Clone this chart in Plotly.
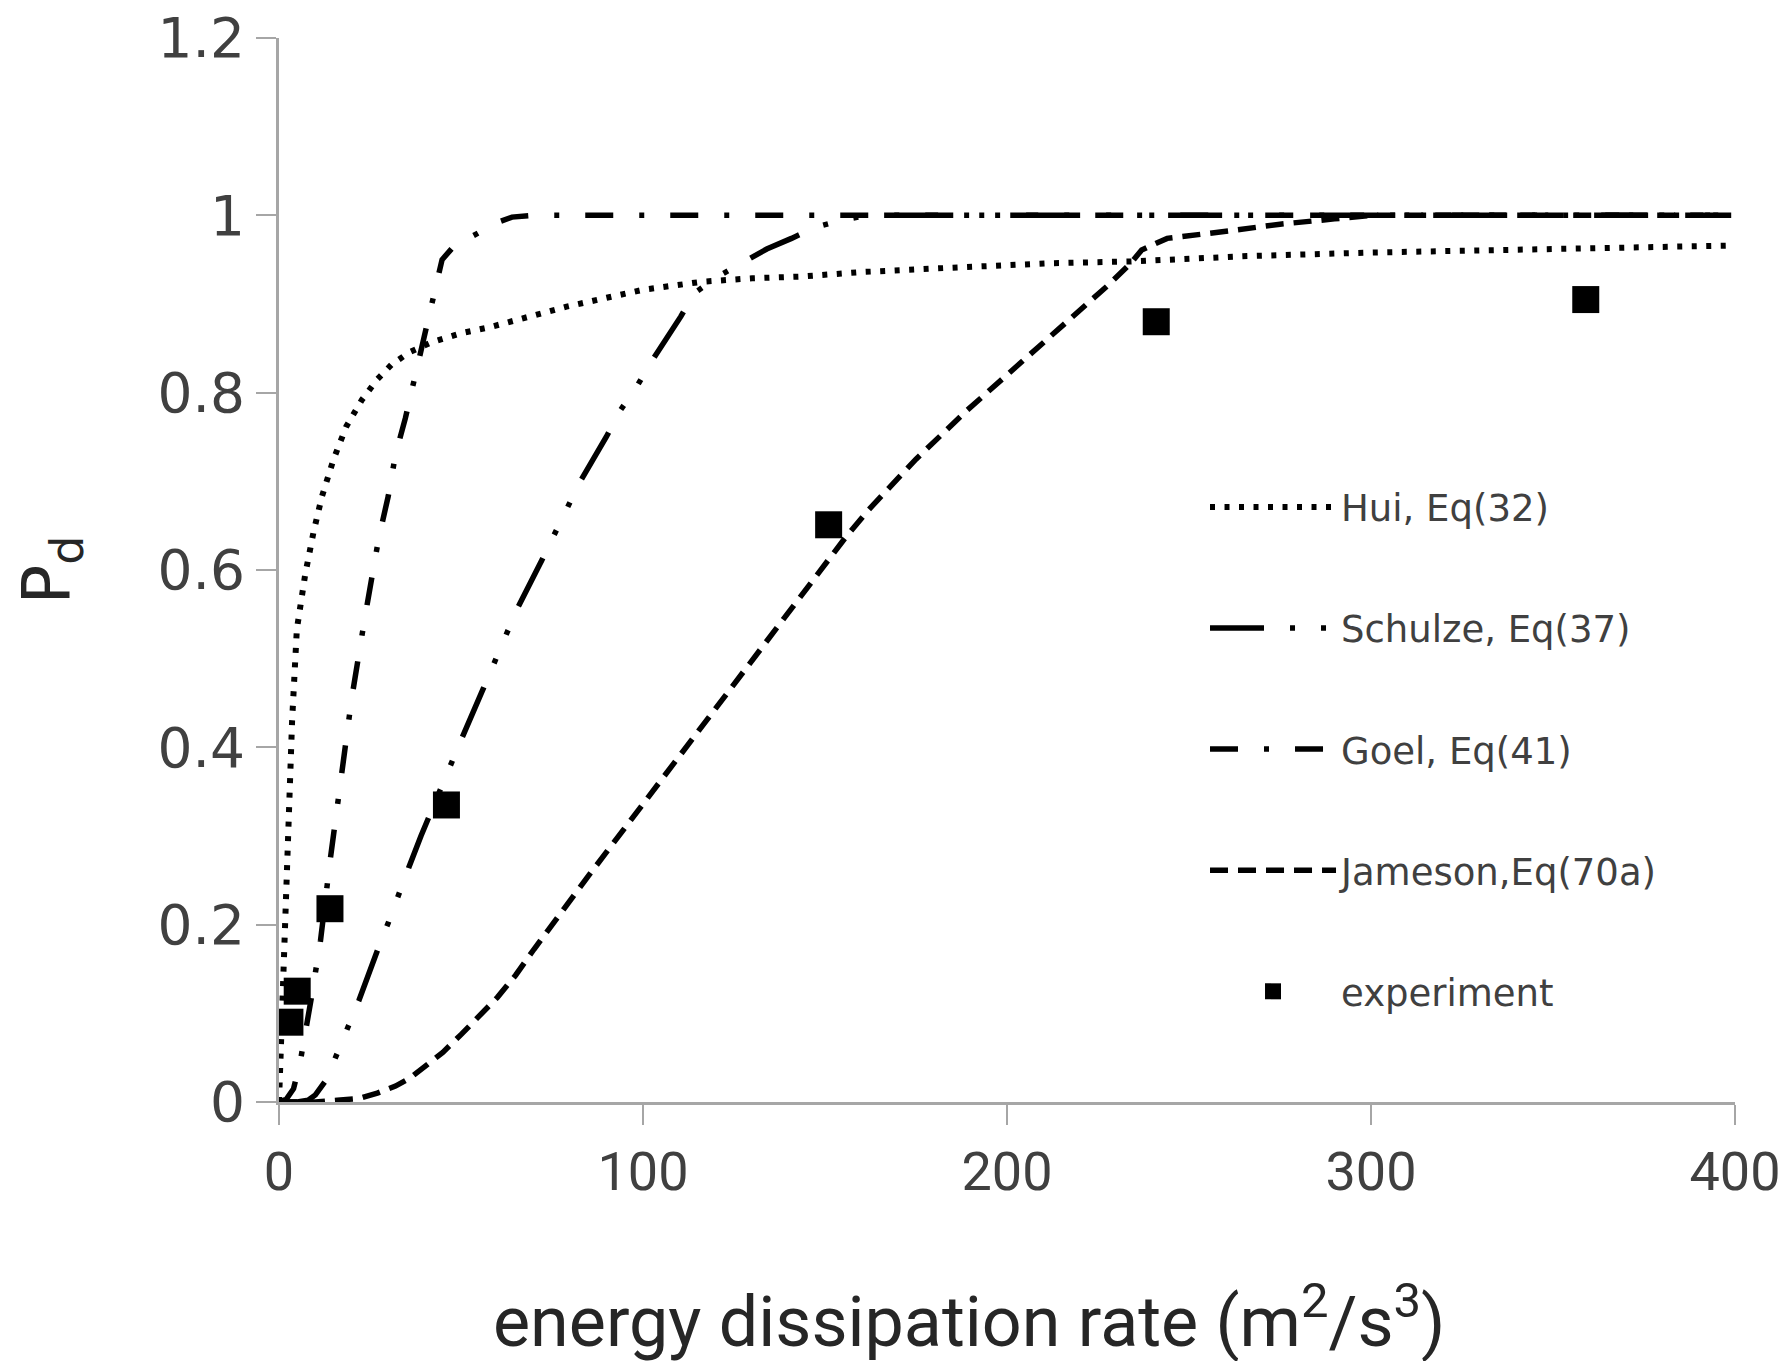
import plotly.graph_objects as go

# ---- data ----
hui_x = [0, 0.36, 0.8, 1.7, 2.7, 3.6, 4.9, 7.2, 9.5, 11.8, 15, 18.5, 22.8, 27, 31, 36, 42, 50, 58, 70, 79, 90, 100, 116, 130, 143.6, 160, 180, 212, 234, 266, 300, 350, 400]
hui_y = [0, 0.042, 0.12, 0.223, 0.326, 0.43, 0.533, 0.595, 0.643, 0.683, 0.725, 0.762, 0.792, 0.815, 0.832, 0.846, 0.857, 0.867, 0.874, 0.887, 0.897, 0.907, 0.916, 0.925, 0.929, 0.931, 0.936, 0.94, 0.946, 0.948, 0.954, 0.958, 0.962, 0.966]

schulze_x = [0, 5, 8, 10, 13, 16, 19.1, 22, 24.6, 27.4, 30, 32.8, 35.6, 39, 43, 47, 50.2, 56.2, 59, 62.2, 65.3, 72.2, 75.4, 79, 82.5, 89.9, 93.6, 98.3, 102, 110.4, 114, 121, 127.7, 134, 140.8, 147.7, 155, 162, 400]
schulze_y = [0, 0, 0.002, 0.008, 0.025, 0.057, 0.086, 0.115, 0.145, 0.175, 0.202, 0.234, 0.264, 0.3, 0.34, 0.38, 0.41, 0.467, 0.495, 0.527, 0.555, 0.611, 0.639, 0.67, 0.698, 0.75, 0.779, 0.807, 0.833, 0.886, 0.912, 0.932, 0.948, 0.962, 0.974, 0.987, 0.995, 1.0, 1.0]

goel_x = [0, 2, 4, 5.9, 9, 11.4, 14.1, 16.8, 20, 23.7, 27.4, 30, 32, 34.7, 37.3, 40, 42, 44.8, 48, 54, 60, 64, 70, 400]
goel_y = [0, 0.003, 0.015, 0.047, 0.12, 0.182, 0.274, 0.362, 0.456, 0.549, 0.636, 0.683, 0.73, 0.771, 0.818, 0.86, 0.897, 0.95, 0.965, 0.978, 0.992, 0.998, 1.0, 1.0]

jameson_x = [0, 10, 16, 22, 27, 32, 36, 40, 45, 50, 55, 60, 65, 70, 85, 100, 115, 131, 143.6, 155.5, 162, 175, 189, 203, 217, 228, 234, 237, 244, 262, 275, 290, 300, 400]
jameson_y = [0, 0, 0.002, 0.004, 0.01, 0.018, 0.027, 0.04, 0.056, 0.076, 0.096, 0.118, 0.143, 0.172, 0.255, 0.336, 0.416, 0.503, 0.57, 0.636, 0.668, 0.725, 0.78, 0.832, 0.882, 0.922, 0.946, 0.961, 0.974, 0.983, 0.99, 0.996, 1.0, 1.0]

exp_x = [3, 5, 14, 46, 151, 241, 359]
exp_y = [0.09, 0.125, 0.218, 0.335, 0.651, 0.88, 0.905]

x_ticks = [0, 100, 200, 300, 400]
y_ticks = [0, 0.2, 0.4, 0.6, 0.8, 1.0, 1.2]
y_ticktext = ["0", "0.2", "0.4", "0.6", "0.8", "1", "1.2"]

names = ["Hui, Eq(32)", "Schulze, Eq(37)", "Goel, Eq(41)", "Jameson,Eq(70a)", "experiment"]
x_title = "energy dissipation rate (m<sup>2</sup>/s<sup>3</sup>)"
y_title = "P<sub>d</sub>"

fig = go.Figure()
line_specs = [
    (hui_x, hui_y, "5px,9.5px", 6),
    (schulze_x, schulze_y, "54px,26px,5px,26px,5px,26px", 5.5),
    (goel_x, goel_y, "28px,26px,5px,26px", 5.5),
    (jameson_x, jameson_y, "18px,10px", 5.5),
]
for i, (xs, ys, dash, w) in enumerate(line_specs):
    fig.add_trace(go.Scatter(
        x=xs, y=ys, mode="lines", name=names[i], legendgroup=f"g{i}",
        line=dict(color="black", width=w, dash=dash, shape="linear"),
        cliponaxis=False,
    ))
fig.add_trace(go.Scatter(
    x=exp_x, y=exp_y, mode="markers", name=names[4], legendgroup="g4",
    marker=dict(symbol="square", size=27, color="black"),
    cliponaxis=False,
))

axis_common = dict(
    showline=True, linecolor="#a6a6a6", linewidth=3,
    ticks="outside", ticklen=20, tickwidth=2, tickcolor="#a6a6a6",
    showgrid=False, zeroline=False, automargin=False,
    ticklabeloverflow="allow",
)
fig.update_layout(
    width=1789, height=1361,
    paper_bgcolor="white", plot_bgcolor="white",
    margin=dict(l=271, r=62, t=30, b=267),
    xaxis=dict(
        range=[0, 400], tickvals=x_ticks, **axis_common,
        tickfont=dict(family="Roboto", size=54, color="#404040"),
    ),
    yaxis=dict(
        range=[0, 1.2], tickvals=y_ticks, ticktext=y_ticktext, **axis_common,
        tickfont=dict(family="DejaVu Sans", size=55, color="#404040"),
        title=dict(text=y_title, font=dict(family="DejaVu Sans", size=66, color="#262626"),
                   standoff=69),
    ),
    legend=dict(
        x=0.636, y=0.588, xanchor="left", yanchor="top",
        font=dict(family="DejaVu Sans", size=37, color="#404040"),
        bgcolor="rgba(0,0,0,0)", tracegroupgap=70, itemwidth=126,
    ),
    showlegend=True,
    annotations=[dict(
        text=x_title, xref="paper", yref="paper", x=0.4737, y=-0.203,
        xanchor="center", yanchor="middle", showarrow=False,
        font=dict(family="Roboto", size=70, color="#262626"),
    )],
)

fig.write_html("out.html")
